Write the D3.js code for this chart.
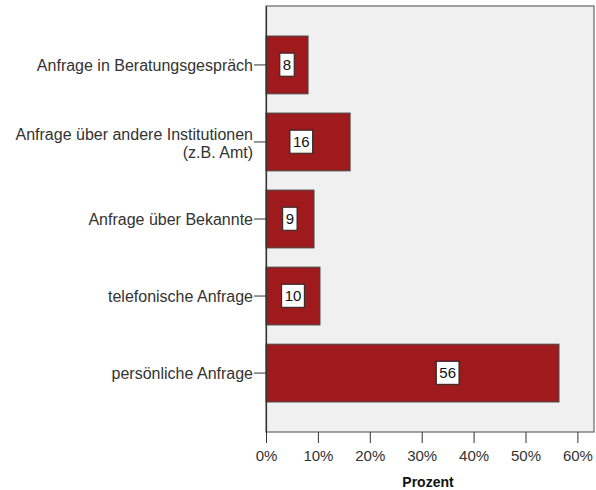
<!DOCTYPE html>
<html lang="de">

<head>
  <meta charset="UTF-8" />
  <title>Anfragen</title>
  <script src="https://cdn.jsdelivr.net/npm/d3@7/dist/d3.min.js"></script>
  <style>
    body { margin: 0; background: #fff; }
    svg { display: block; font-family: "Liberation Sans", Arial, sans-serif; }
  </style>
</head>

<body>
  <svg id="svg"></svg>
</body>

<script>
  const categories = [
    "Anfrage in Beratungsgespräch",
    "Anfrage über andere Institutionen\n(z.B. Amt)",
    "Anfrage über Bekannte",
    "telefonische Anfrage",
    "persönliche Anfrage",
  ];
  const values = [8.1, 16.2, 9.25, 10.4, 56.45];
  // where SPSS left the value boxes (in percent along the bar)
  const labelAt = [4.05, 6.8, 4.6, 5.2, 35];
  const xTicks = [0, 10, 20, 30, 40, 50, 60];

  const width = 596;
  const height = 490;
  const margin = { top: 6, right: 2, bottom: 58, left: 266 };
  const innerWidth = width - margin.left - margin.right;
  const innerHeight = height - margin.top - margin.bottom;

  const svg = d3.select("#svg").attr("width", width).attr("height", height);
  const g = svg.append("g").attr("transform", `translate(${margin.left}, ${margin.top})`);

  const xScale = d3.scaleLinear().domain([0, 63.2]).range([0, innerWidth]);
  const yScale = d3
    .scaleBand()
    .domain(categories)
    .range([0, innerHeight])
    .paddingInner(0.25)
    .paddingOuter(0.39);

  // plot background + frame
  g.append("rect")
    .attr("width", innerWidth)
    .attr("height", innerHeight)
    .attr("fill", "#f0f0f0")
    .attr("stroke", "#666")
    .attr("stroke-width", 1.2);

  // bars
  g.selectAll(".bar")
    .data(categories)
    .join("rect")
    .attr("class", "bar")
    .attr("x", 0)
    .attr("y", (d) => yScale(d))
    .attr("width", (d, i) => xScale(values[i]))
    .attr("height", yScale.bandwidth())
    .attr("fill", "#9e1a1c")
    .attr("stroke", "#444")
    .attr("stroke-width", 1);

  // value boxes
  categories.forEach((c, i) => {
    const lg = g.append("g")
      .attr("transform", `translate(${xScale(labelAt[i])}, ${yScale(c) + yScale.bandwidth() / 2})`);
    const t = lg.append("text")
      .text(Math.round(values[i]))
      .attr("text-anchor", "middle")
      .attr("dy", "0.35em")
      .attr("font-size", 15)
      .attr("fill", "#111");
    const bb = t.node().getBBox();
    lg.insert("rect", "text")
      .attr("x", bb.x - 3)
      .attr("y", bb.y - 3)
      .attr("width", bb.width + 6)
      .attr("height", bb.height + 6)
      .attr("fill", "#fff")
      .attr("stroke", "#222")
      .attr("stroke-width", 1);
  });

  // y axis
  const yAxis = d3.axisLeft(yScale).tickSize(12).tickSizeOuter(0);
  const yg = g.append("g").call(yAxis);
  yg.select(".domain").attr("stroke", "#333").attr("stroke-width", 1.2);
  yg.selectAll(".tick line").attr("stroke", "#333");
  yg.selectAll(".tick text").remove();
  yg.selectAll(".tick").each(function (d) {
    const lines = d.split("\n");
    const t = d3.select(this).append("text")
      .attr("text-anchor", "end")
      .attr("font-size", 16)
      .attr("fill", "#333");
    lines.forEach((l, j) => {
      t.append("tspan")
        .attr("x", -13)
        .attr("y", (j - (lines.length - 1) / 2) * 18 + (lines.length > 1 ? 1 : 0))
        .attr("dy", "0.35em")
        .text(l);
    });
  });

  // x axis
  const xAxis = d3.axisBottom(xScale).tickValues(xTicks).tickSize(11).tickSizeOuter(0).tickPadding(7).tickFormat((d) => d + "%");
  const xg = g.append("g").attr("transform", `translate(0, ${innerHeight})`).call(xAxis);
  xg.select(".domain").remove();
  xg.selectAll(".tick line").attr("stroke", "#333");
  xg.selectAll(".tick text")
    .attr("font-size", 15)
    .attr("font-family", "'Liberation Sans', Arial, sans-serif")
    .attr("fill", "#333");

  g.append("text")
    .text("Prozent")
    .attr("x", innerWidth / 2 - 2)
    .attr("y", innerHeight + 55)
    .attr("text-anchor", "middle")
    .attr("font-size", 14)
    .attr("font-weight", "bold")
    .attr("fill", "#111");
</script>

</html>
